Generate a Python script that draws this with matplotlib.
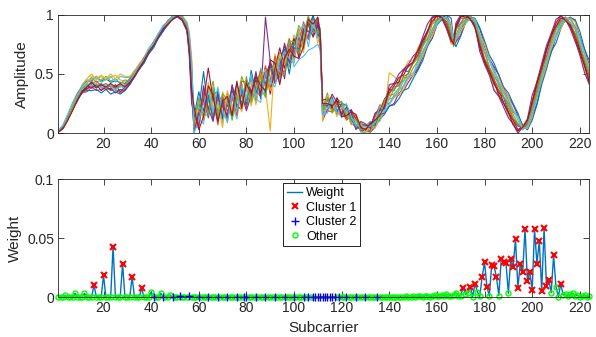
import numpy as np
import matplotlib
matplotlib.use("Agg")
import matplotlib.pyplot as plt

plt.rcParams['font.family'] = ['Liberation Sans', 'DejaVu Sans']

# ---------------- data: top panel (amplitude, percent) ----------------
subcarrier_grid = (list(range(1, 56, 2)) + [56, 57] + list(range(58, 111, 2)) + [111]
                   + list(range(112, 167, 2)) + [167] + list(range(168, 225, 2)))

amp_base = [1, 5, 13, 22, 30, 37, 40, 42, 42, 41, 41, 41, 40, 40, 41, 44, 50, 56, 62, 69,
            75, 82, 88, 93, 97, 99, 97, 90, 76, 45,
            12, 15, 22, 25, 24, 22, 21, 22, 25, 28, 32, 34, 37, 39, 41, 45, 48, 52, 56, 61,
            66, 71, 77, 82, 88, 91, 88, 82,
            18, 25, 24, 22, 20, 17, 13, 9, 5, 3, 4, 10, 16, 22,
            30, 34, 38, 44, 49, 54, 62, 71, 80, 89, 95, 97, 95, 86, 77, 83, 91, 96, 97, 93,
            80, 68, 58, 48, 40, 32, 24, 16, 9, 4, 7, 20, 34, 49, 63, 76, 86, 93, 96, 94,
            87, 76, 63, 50]

# per-packet offsets from the base, subcarriers 1-57
offsets_low = [
    [0, 1, 2, -1, 2, 3, 4, 2, 6, 3, 5, 2, 4, 3, 1, 2, 1, 2, -1, 1, 2, 1, 2, 1, 2, 1, 2, 3, 6, 15],
    [0, -1, -2, 1, -2, -3, -5, -3, -6, -4, -2, -5, -3, -6, -4, -2, -3, -2, 0, -2, -1, -2, -1, -2, 0, 0, -1, -3, -8, -15],
    [1, 2, 1, 3, 1, 4, 6, 8, 3, 7, 4, 6, 9, 5, 3, 1, 2, 0, 1, 2, 1, 2, 0, 2, 1, 1, 2, 4, 10, 20],
    [0, 0, -1, -2, -3, -1, -3, -1, -4, 1, -3, -1, -2, 0, -3, -3, -2, -1, -2, -1, -2, -1, -2, -1, -1, -1, -2, -4, -10, -20],
    [0, 1, 2, 2, 1, 0, 2, 5, 1, 4, 7, 3, 6, 2, 4, 0, -1, 1, 0, -1, 0, -1, 1, 0, 1, 1, 0, 1, 4, 8],
    [1, 2, 3, 4, 4, 3, 5, 3, 6, 2, 4, 7, 3, 8, 6, 3, 3, 2, 2, 3, 2, 2, 3, 1, 2, 1, 1, 2, 5, 10],
    [0, 0, 1, 0, -1, -2, 0, -4, -1, -5, -2, -4, 1, -5, -2, -1, -1, 0, -1, 1, 0, 1, 0, 1, 1, 1, 1, 0, -3, -5],
    [0, -1, -1, -2, -1, -2, -4, -6, -5, -7, -4, -8, -5, -7, -5, -3, -2, -2, -3, -2, -3, -2, -2, -1, -1, 0, -1, -2, -6, -12],
    [0, 1, 1, 2, 3, 2, 1, 0, 2, -1, 1, -2, 0, 1, -1, 1, 2, 1, 2, 0, 2, 1, 1, 2, 1, 1, 1, 2, 3, 5],
    [1, 1, 0, 1, 0, 1, 3, 6, 4, 8, 5, 9, 6, 10, 7, 4, 2, 3, 1, 2, 1, 0, 1, 0, 1, 1, 0, -1, -2, -3],
    [0, 0, -1, -1, -2, -3, -2, -3, -2, -2, -4, -3, -6, -3, -5, -2, -1, -2, -1, -1, -1, 0, -1, 0, 0, 0, -1, -2, -5, -10],
    [0, -1, 0, -1, 0, 1, -1, 2, -2, 1, -3, 0, -2, -1, 0, 0, 1, 0, 1, 0, -1, 0, 1, 0, 0, 1, 0, 0, 1, 2],
    [1, 2, 3, 3, 2, 2, 1, -2, 0, -3, 0, -1, -4, 0, -3, 0, 0, 1, 0, 1, 1, 2, 1, 1, 1, 1, 1, 2, 8, 12],
    [0, -1, -2, -3, -2, -2, -1, 1, -3, 0, -2, 1, -1, 2, -2, -1, -2, -1, -1, 0, -1, -1, 0, -1, -1, 0, -1, -2, -4, -8],
]

# subcarriers 58-111 (noisy band)
offsets_mid = [
    [-8, 5, 30, -6, 12, -4, 8, -10, 3, 14, -7, 5, 9, -12, 6, -3, 11, -8, 4, 13, -5, 7, -9, 2, 10, -4, 6, -3],
    [6, -7, 15, 4, -9, 7, -5, 12, -8, 1, 10, -13, 3, 8, -6, 12, -10, 5, -2, -9, 8, -4, 11, -7, 3, 8, -5, 4],
    [-10, 12, -4, 18, -2, -11, 14, 3, -6, 9, -3, 7, -14, 4, 10, -7, -46, 15, -11, 6, -2, 12, -6, 9, -3, 5, 2, -8],
    [3, -9, 7, -12, 9, 13, -8, 5, 11, -9, 4, -6, 12, -3, -10, 53, 13, -4, 7, -15, 10, -8, 4, -11, 6, -6, 9, 1],
    [-5, 15, -11, 2, 20, -6, 4, -13, 8, -2, 16, 3, -9, 11, -4, -14, 7, -2, 12, 5, -10, 3, 14, 1, -8, 7, -2, 5],
    [9, -3, -14, 8, -7, 4, -12, 10, -1, -16, 7, -3, 10, -8, 14, 2, -7, 9, -13, 1, 11, -15, -15, -17, -18, -19, -13, -12],
    [-11, 2, 6, 30, 4, 9, 1, -7, 15, -5, -12, 11, -2, 6, -8, 10, -15, 3, 16, -6, 2, 9, -13, 6, 4, -10, 3, -2],
    [2, 20, -3, 7, -13, 15, -9, 2, -11, 7, 5, -10, 16, -5, 3, -11, 9, -6, 1, 10, -16, 5, 7, -4, -6, 11, -7, 6],
    [-6, -10, 12, -8, 6, -15, 11, -4, 6, -13, 12, 9, -7, 1, 12, -5, -3, 13, -9, 4, 14, -7, -1, 12, -9, -1, 8, -10],
    [7, 4, -9, 13, -3, 2, -16, 14, -4, 10, -14, 2, 6, -15, 5, 9, -12, -8, 10, -3, 6, -11, 10, -14, 7, 3, -12, 3],
    [-9, -6, 18, -4, -14, 11, 5, -9, 16, -6, 1, -15, -5, 13, -12, 4, 11, -10, -5, 15, -7, 1, -6, 5, -2, -8, 5, -5],
    [4, 9, -6, -10, 15, -9, 12, 7, -14, 3, -9, 14, -11, -2, 8, -15, 6, 4, -8, -11, 12, 6, -10, -3, 11, -5, -4, 7],
    [-12, -4, 3, 11, -5, 17, -3, -12, 9, -9, 8, -5, 13, -10, -15, 7, -4, -13, 5, 8, -3, -12, 8, 10, -15, 4, -8, -1],
    [10, -12, -8, 15, 8, -12, 6, 9, -10, 16, -11, 8, -4, 9, -1, -9, 14, 7, -15, 2, 5, -6, -14, -9, 8, 1, 10, 2],
]

# subcarriers 112-138
offsets_valley = [
    [5, -3, 4, 2, -5, 3, 6, -2, 1, 0, 3, -4, 5, 2],
    [-4, 6, -2, 5, 3, -6, 2, 4, -3, 1, -2, 5, -3, 4],
    [8, 2, 7, -3, 4, 6, -4, 5, 3, 2, 4, 3, 6, -3],
    [-7, -5, 1, -6, -2, 2, -5, -3, -2, -1, -3, -5, -4, -6],
    [2, 9, -5, 7, 6, -1, 5, -4, 4, 3, 6, -2, 2, 5],
    [-2, -8, 3, -2, -7, 4, -3, 2, -4, -2, -1, 2, -6, -2],
    [10, 4, -3, 8, 1, -4, 7, 3, 2, 4, 1, 6, 3, 7],
    [-5, 3, 6, -4, 5, 7, -1, -5, 0, -1, 5, -3, 0, -5],
    [3, -6, -6, 3, -3, -5, 3, 6, -1, 1, -2, 4, 8, 0],
    [-8, 7, 2, -8, 2, 1, -6, 0, 3, -2, 2, -6, -2, 3],
    [6, -2, 9, 4, -4, 5, 4, -6, 5, 5, 0, 7, 4, -1],
    [0, 5, -7, 1, 7, -3, -2, 3, -3, -3, -4, 0, -5, 6],
    [-3, -4, 5, -5, 0, 8, 1, -3, 2, 2, 2, -1, 7, -4],
    [7, 0, -1, 6, -6, -2, 5, 7, 0, 0, 4, 1, -1, 1],
]

# subcarriers 140-224
offsets_high = [
    [7, 2, 6, 9, 3, 5, 8, 4, 6, 5, 4, 1, -3, -3, -3, 5, 6, 1, 2, -2, -4, -7, -3, -5, -6, -2, -6, -5, -3, 1, 1, 7, 5, 3, 6, 8, 4, 2, 1, -3, -3, -5, -7, -4],
    [-5, -2, -6, -4, -1, -5, -6, -3, -4, -5, -1, -2, 2, 5, 2, -5, -4, -1, -1, 3, 2, 5, 4, 6, 3, 5, 4, 2, 5, 2, -2, -5, -3, -2, -6, -4, -3, -3, 0, 3, 3, 6, 4, 5],
    [21, 14, 6, 9, 12, 7, 10, 8, 6, 9, 4, 1, -5, -11, 2, 9, 6, 4, 1, -5, -6, -9, -7, -11, -8, -6, -9, -7, -8, 2, 5, 6, 10, 8, 7, 9, 6, 4, 1, -4, -10, -7, -9, -8],
    [-7, -9, -4, -8, -6, -5, -8, -7, -5, -9, -3, 0, 5, 5, -3, -6, -8, -2, 0, 3, 8, 7, 5, 8, 9, 6, 7, 8, 6, 3, -4, -6, -9, -6, -7, -8, -5, -3, -1, 4, 8, 5, 8, 7],
    [-1, 3, 4, 0, 2, 5, 1, 4, -1, 3, 0, 2, -1, -1, -4, 4, 2, 0, 2, 0, -3, 0, -2, -4, -1, -2, 0, -3, -1, 0, 3, 1, 3, 5, 0, 2, 2, 0, 2, -1, -3, -1, -2, -4],
    [-1, -4, -2, 0, -3, -5, -1, -2, -4, -1, -1, -1, 3, 2, 3, -3, -1, -1, -2, 1, 4, 1, 3, 2, 0, 3, 1, 4, 2, -1, -1, 0, -3, -2, -1, -4, -2, 0, -1, 2, 2, 1, 4, 3],
    [4, 6, 9, 5, 8, 6, 4, 7, 6, 5, 4, 0, -1, -7, 1, 6, 8, 2, 0, -2, -8, -6, -5, -7, -4, -6, -7, -5, -6, 2, 2, 6, 8, 5, 7, 6, 4, 4, 0, -4, -4, -6, -5, -7],
    [-7, -10, -9, -8, -11, -8, -9, -10, -7, -9, -4, -1, 5, 11, 1, -10, -9, -3, 1, 4, 9, 10, 8, 11, 9, 7, 10, 9, 8, 2, -4, -9, -10, -8, -9, -7, -10, -5, 1, 3, 9, 10, 8, 11],
    [3, 5, 2, 4, 1, 6, 3, 2, 4, 5, 1, 0, -1, -5, 0, 5, 2, 3, 0, -3, -2, -5, -3, -2, -4, -1, -3, -4, -2, 0, 0, 4, 3, 5, 2, 4, 3, 1, 2, -2, -4, -2, -3, -1],
    [-6, -4, -5, -7, -3, -5, -4, -6, -5, -7, -3, 1, 2, 6, -2, -4, -5, -4, 1, 3, 4, 7, 5, 4, 6, 5, 7, 4, 5, 1, -3, -6, -3, -5, -6, -4, -5, -5, 1, 3, 7, 4, 5, 6],
    [11, 8, 12, 10, 9, 11, 7, 10, 12, 9, 6, 0, -7, -9, 2, 10, 9, 6, 0, -3, -11, -10, -9, -12, -9, -10, -11, -8, -10, 1, 5, 12, 9, 10, 11, 8, 10, 6, 0, -6, -9, -10, -12, -9],
    [2, -1, 0, 3, -2, 1, -1, 2, 0, -2, 1, 0, 2, -1, -2, 0, 1, -1, 2, 0, -1, 1, -2, 0, 2, -1, 1, 0, -1, 1, 2, -1, 0, 1, -2, 0, 1, 2, 0, -1, 1, -2, 0, 1],
    [-5, -3, -2, -4, -1, -3, -5, -2, -3, -2, -3, 0, 3, 3, 3, -4, -1, -2, -1, 3, 3, 1, 4, 5, 3, 2, 4, 3, 5, -1, -1, -3, -5, -2, -3, -1, -4, -2, 1, 2, 2, 5, 4, 3],
    [7, 8, 5, 9, 7, 6, 8, 7, 5, 8, 4, 1, -5, -7, -2, 8, 7, 6, -1, -4, -6, -8, -7, -5, -8, -7, -6, -9, -7, 1, 4, 6, 9, 7, 8, 6, 7, 6, -1, -3, -7, -8, -6, -7],
]

line_colors = ['#0072BD', '#D95319', '#EDB120', '#7E2F8E', '#77AC30', '#4DBEEE', '#A2142F']

# ---------------- data: bottom panel (weight x 1e-4) ----------------
weight_e4 = [0, 2, 0, 17, 0, 3, 1, 34, 0, 2,
             1, 34, 0, 3, 0, 105, 0, 2, 0, 186,
             0, 1, 0, 430, 2, 0, 1, 285, 0, 2,
             0, 172, 1, 0, 2, 78, 0, 3, 0, 45,
             0, 2, 0, 35, 0, 1, 2, 20, 0, 2,
             0, 12, 1, 0, 2, 8, 0, 1, 0, 6,
             1, 0, 2, 4, 0, 1, 0, 5, 2, 0,
             1, 4, 0, 2, 0, 3, 1, 0, 2, 5,
             0, 1, 0, 3, 2, 0, 1, 4, 0, 2,
             1, 3, 0, 0, 2, 4, 1, 0, 0, 3,
             2, 0, 1, 4, 0, 2, 0, 3, 1, 0,
             2, 4, 0, 1, 0, 3, 2, 0, 1, 4,
             0, 2, 1, 0, 3, 0, 1, 5, 0, 2,
             1, 6, 0, 2, 3, 0, 4, 2, 0, 5,
             2, 3, 0, 6, 4, 2, 8, 3, 5, 10,
             4, 7, 12, 5, 9, 14, 6, 11, 18, 8,
             15, 22, 10, 28, 14, 12, 20, 38, 10, 15,
             81, 25, 40, 90, 5, 115, 45, 8, 175, 297,
             90, 10, 273, 265, 171, 15, 322, 300, 291, 35,
             322, 257, 494, 81, 285, 212, 580, 140, 212, 65,
             575, 285, 478, 55, 585, 93, 144, 40, 358, 88,
             5, 113, 20, 30, 10, 25, 35, 10, 20, 5,
             12, 18, 6, 10]

cluster1_idx = [16, 20, 24, 28, 32, 36, 171, 174, 176, 179, 180, 181, 183, 184, 185, 187, 188,
                189, 191, 192, 193, 194, 195, 196, 197, 198, 199, 200, 201, 202, 203, 204, 205,
                206, 207, 209, 212]
cluster2_idx = [41, 45, 49, 52, 56, 60, 64, 68, 72, 76, 79, 80, 84, 88, 92, 96, 100, 104, 106,
                108, 109, 110, 111, 112, 113, 114, 115, 116, 117, 119, 122, 126, 130, 135]

x_ticks = list(range(20, 221, 20))

# ---------------- figure ----------------
fig = plt.figure(figsize=(5.96, 3.37), dpi=100)
ax1 = fig.add_axes([0.0978, 0.6045, 0.891, 0.352])
ax2 = fig.add_axes([0.0978, 0.1178, 0.891, 0.350])

edge = '#262626'
for ax in (ax1, ax2):
    for sp in ax.spines.values():
        sp.set_linewidth(0.6)
        sp.set_color(edge)
    ax.tick_params(direction='in', top=True, right=True, length=4, width=0.6,
                   colors=edge, labelsize=10, pad=3)
    ax.set_xlim(1, 224)
    ax.set_xticks(x_ticks)

base = np.array(amp_base, dtype=float)
for k in range(len(offsets_low)):
    dev = np.array(offsets_low[k] + offsets_mid[k] + offsets_valley[k] + offsets_high[k], dtype=float)
    vals = np.clip((base + dev) / 100.0, 0, 1)
    ax1.plot(subcarrier_grid, vals, color=line_colors[k % 7], lw=0.8)

ax1.set_ylim(0, 1)
ax1.set_yticks([0, 0.5, 1])
ax1.set_yticklabels(['0', '0.5', '1'])
ax1.set_ylabel('Amplitude', fontsize=11, color=edge)

x_all = np.arange(1, len(weight_e4) + 1)
w = np.array(weight_e4, dtype=float) / 1e4
c1 = np.array(cluster1_idx)
c2 = np.array(cluster2_idx)
other = np.array([i for i in x_all if i not in cluster1_idx and i not in cluster2_idx])

h_line, = ax2.plot(x_all, w, color='#0072BD', lw=1.0)
h_oth, = ax2.plot(other, w[other - 1], 'o', mfc='none', mec='#00FF00', ms=3.6, mew=1.0,
                  clip_on=False, linestyle='none')
h_c2, = ax2.plot(c2, w[c2 - 1], '+', color='#0000FF', ms=5.5, mew=1.0, clip_on=False,
                 linestyle='none')
h_c1, = ax2.plot(c1, w[c1 - 1], 'x', color='#FF0000', ms=5, mew=1.5, clip_on=False,
                 linestyle='none')

ax2.set_ylim(0, 0.1)
ax2.set_yticks([0, 0.05, 0.1])
ax2.set_yticklabels(['0', '0.05', '0.1'])
ax2.set_ylabel('Weight', fontsize=11, color=edge)
ax2.set_xlabel('Subcarrier', fontsize=11, color=edge)

leg = ax2.legend([h_line, h_c1, h_c2, h_oth], ['Weight', 'Cluster 1', 'Cluster 2', 'Other'],
                 loc='upper left', bbox_to_anchor=(0.424, 0.965), fontsize=9,
                 frameon=True, fancybox=False, edgecolor='black', framealpha=1,
                 borderpad=0.3, labelspacing=0.2, handlelength=1.2, handletextpad=0.3,
                 borderaxespad=0)
leg.get_frame().set_linewidth(0.6)

fig.savefig('out.png', dpi=100)
